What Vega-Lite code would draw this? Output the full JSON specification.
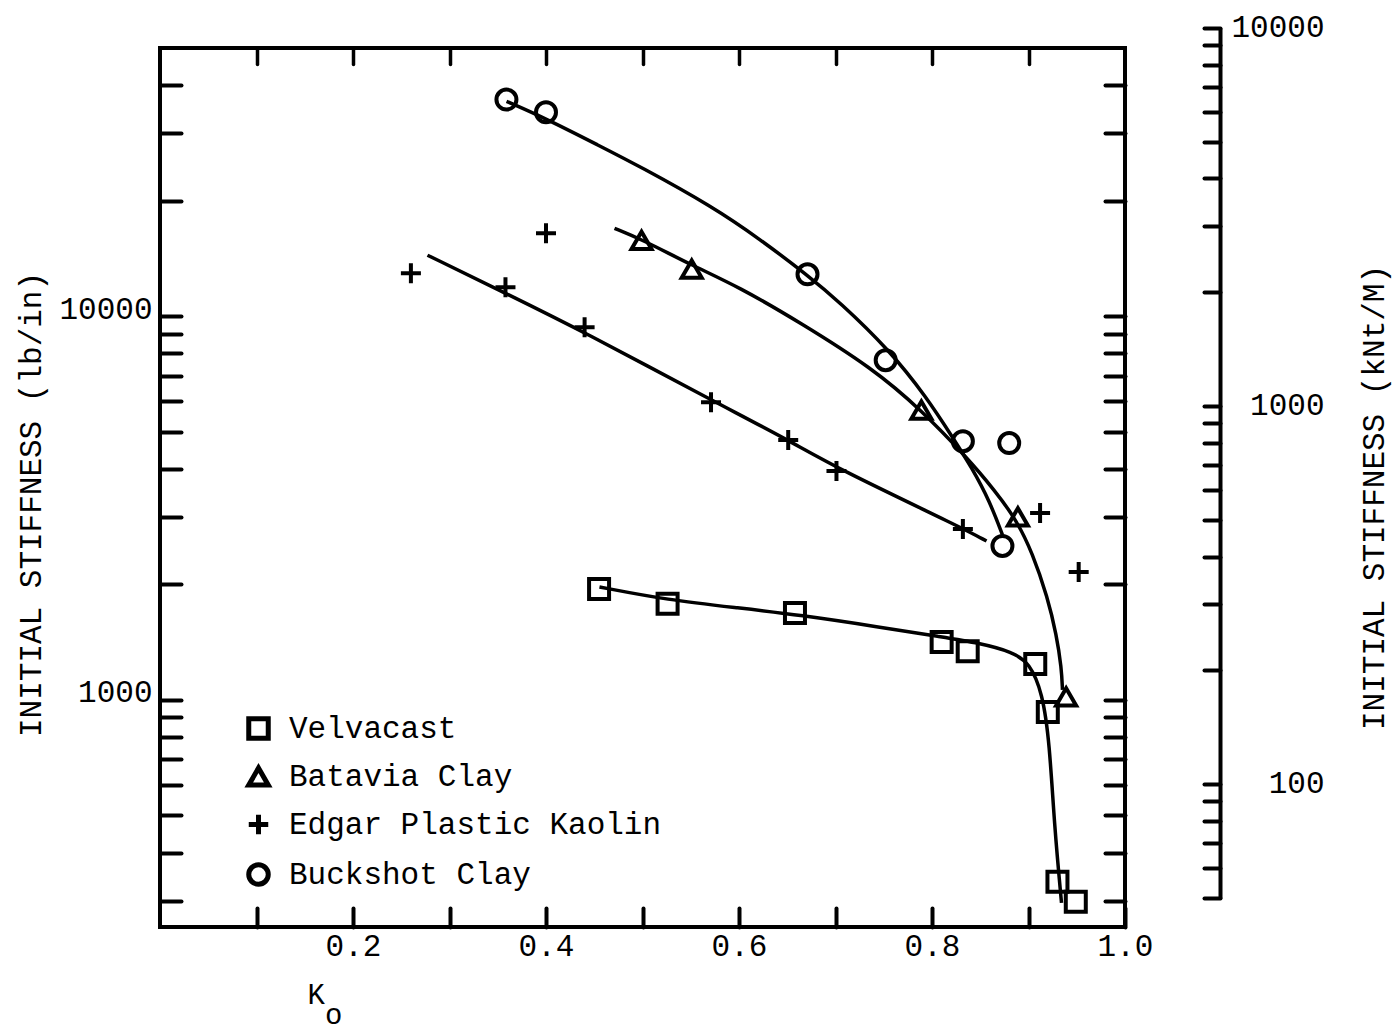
{
  "$schema": "https://vega.github.io/schema/vega-lite/v6.json",
  "autosize": "none",
  "width": 965,
  "height": 879,
  "padding": {"left": 160, "top": 48, "right": 270, "bottom": 105},
  "background": "white",
  "config": {
    "view": {"stroke": "black", "strokeWidth": 4},
    "font": "Liberation Mono",
    "axis": {
      "labelFont": "Liberation Mono",
      "titleFont": "Liberation Mono",
      "labelColor": "black",
      "titleColor": "black",
      "tickColor": "black",
      "domainColor": "black",
      "labelFontSize": 31,
      "titleFontSize": 31,
      "titleFontWeight": "normal",
      "grid": false,
      "tickWidth": 4,
      "tickCap": "round",
      "labelOverlap": false,
      "labelFlush": false,
      "labelBound": false
    }
  },
  "datasets": {
    "points": [
      {"series": "Velvacast", "ko": 0.455, "stiffness": 1945},
      {"series": "Velvacast", "ko": 0.526, "stiffness": 1780},
      {"series": "Velvacast", "ko": 0.658, "stiffness": 1685},
      {"series": "Velvacast", "ko": 0.810, "stiffness": 1415},
      {"series": "Velvacast", "ko": 0.837, "stiffness": 1340},
      {"series": "Velvacast", "ko": 0.907, "stiffness": 1240},
      {"series": "Velvacast", "ko": 0.920, "stiffness": 930},
      {"series": "Velvacast", "ko": 0.930, "stiffness": 336},
      {"series": "Velvacast", "ko": 0.949, "stiffness": 298},
      {"series": "Batavia Clay", "ko": 0.499, "stiffness": 15770},
      {"series": "Batavia Clay", "ko": 0.551, "stiffness": 13260},
      {"series": "Batavia Clay", "ko": 0.789, "stiffness": 5690},
      {"series": "Batavia Clay", "ko": 0.889, "stiffness": 3000},
      {"series": "Batavia Clay", "ko": 0.939, "stiffness": 1018},
      {"series": "Edgar Plastic Kaolin", "ko": 0.260, "stiffness": 12940},
      {"series": "Edgar Plastic Kaolin", "ko": 0.358, "stiffness": 11900},
      {"series": "Edgar Plastic Kaolin", "ko": 0.400, "stiffness": 16450},
      {"series": "Edgar Plastic Kaolin", "ko": 0.440, "stiffness": 9360},
      {"series": "Edgar Plastic Kaolin", "ko": 0.571, "stiffness": 5970},
      {"series": "Edgar Plastic Kaolin", "ko": 0.651, "stiffness": 4755},
      {"series": "Edgar Plastic Kaolin", "ko": 0.701, "stiffness": 3950},
      {"series": "Edgar Plastic Kaolin", "ko": 0.832, "stiffness": 2790},
      {"series": "Edgar Plastic Kaolin", "ko": 0.912, "stiffness": 3070},
      {"series": "Edgar Plastic Kaolin", "ko": 0.952, "stiffness": 2155},
      {"series": "Buckshot Clay", "ko": 0.359, "stiffness": 36700},
      {"series": "Buckshot Clay", "ko": 0.400, "stiffness": 34000},
      {"series": "Buckshot Clay", "ko": 0.671, "stiffness": 12860},
      {"series": "Buckshot Clay", "ko": 0.752, "stiffness": 7680},
      {"series": "Buckshot Clay", "ko": 0.832, "stiffness": 4725},
      {"series": "Buckshot Clay", "ko": 0.880, "stiffness": 4670},
      {"series": "Buckshot Clay", "ko": 0.873, "stiffness": 2520}
    ],
    "curves": [
      {"series": "Velvacast", "ko": 0.4554, "stiffness": 1970},
      {"series": "Velvacast", "ko": 0.5259, "stiffness": 1822},
      {"series": "Velvacast", "ko": 0.6005, "stiffness": 1736},
      {"series": "Velvacast", "ko": 0.6627, "stiffness": 1665},
      {"series": "Velvacast", "ko": 0.7456, "stiffness": 1549},
      {"series": "Velvacast", "ko": 0.8098, "stiffness": 1459},
      {"series": "Velvacast", "ko": 0.8492, "stiffness": 1407},
      {"series": "Velvacast", "ko": 0.8834, "stiffness": 1334},
      {"series": "Velvacast", "ko": 0.9010, "stiffness": 1249},
      {"series": "Velvacast", "ko": 0.9145, "stiffness": 1043},
      {"series": "Velvacast", "ko": 0.9218, "stiffness": 773},
      {"series": "Velvacast", "ko": 0.9269, "stiffness": 467},
      {"series": "Velvacast", "ko": 0.9342, "stiffness": 296},
      {"series": "Batavia Clay", "ko": 0.4710, "stiffness": 16950},
      {"series": "Batavia Clay", "ko": 0.4990, "stiffness": 15870},
      {"series": "Batavia Clay", "ko": 0.5508, "stiffness": 13580},
      {"series": "Batavia Clay", "ko": 0.6005, "stiffness": 11900},
      {"series": "Batavia Clay", "ko": 0.6627, "stiffness": 9647},
      {"series": "Batavia Clay", "ko": 0.7383, "stiffness": 7320},
      {"series": "Batavia Clay", "ko": 0.7891, "stiffness": 5690},
      {"series": "Batavia Clay", "ko": 0.8357, "stiffness": 4294},
      {"series": "Batavia Clay", "ko": 0.8648, "stiffness": 3524},
      {"series": "Batavia Clay", "ko": 0.8876, "stiffness": 2943},
      {"series": "Batavia Clay", "ko": 0.9041, "stiffness": 2414},
      {"series": "Batavia Clay", "ko": 0.9197, "stiffness": 1854},
      {"series": "Batavia Clay", "ko": 0.9290, "stiffness": 1477},
      {"series": "Batavia Clay", "ko": 0.9342, "stiffness": 1212},
      {"series": "Batavia Clay", "ko": 0.9352, "stiffness": 1062},
      {"series": "Edgar Plastic Kaolin", "ko": 0.2772, "stiffness": 14420},
      {"series": "Edgar Plastic Kaolin", "ko": 0.3580, "stiffness": 11480},
      {"series": "Edgar Plastic Kaolin", "ko": 0.4399, "stiffness": 9085},
      {"series": "Edgar Plastic Kaolin", "ko": 0.5715, "stiffness": 6042},
      {"series": "Edgar Plastic Kaolin", "ko": 0.6513, "stiffness": 4755},
      {"series": "Edgar Plastic Kaolin", "ko": 0.7010, "stiffness": 4020},
      {"series": "Edgar Plastic Kaolin", "ko": 0.8316, "stiffness": 2805},
      {"series": "Edgar Plastic Kaolin", "ko": 0.8565, "stiffness": 2595},
      {"series": "Buckshot Clay", "ko": 0.3591, "stiffness": 36300},
      {"series": "Buckshot Clay", "ko": 0.3995, "stiffness": 32780},
      {"series": "Buckshot Clay", "ko": 0.4554, "stiffness": 27800},
      {"series": "Buckshot Clay", "ko": 0.4969, "stiffness": 24600},
      {"series": "Buckshot Clay", "ko": 0.5725, "stiffness": 19300},
      {"series": "Buckshot Clay", "ko": 0.6213, "stiffness": 15900},
      {"series": "Buckshot Clay", "ko": 0.6710, "stiffness": 12790},
      {"series": "Buckshot Clay", "ko": 0.7041, "stiffness": 10900},
      {"series": "Buckshot Clay", "ko": 0.7560, "stiffness": 8155},
      {"series": "Buckshot Clay", "ko": 0.7943, "stiffness": 6152},
      {"series": "Buckshot Clay", "ko": 0.8212, "stiffness": 4841},
      {"series": "Buckshot Clay", "ko": 0.8420, "stiffness": 4000},
      {"series": "Buckshot Clay", "ko": 0.8596, "stiffness": 3300},
      {"series": "Buckshot Clay", "ko": 0.8731, "stiffness": 2690}
    ],
    "kn": [{"kn": 50}, {"kn": 10000}]
  },
  "layer": [
    {
      "data": {"name": "curves"},
      "mark": {"type": "line", "interpolate": "basis", "color": "black", "strokeWidth": 3.5},
      "encoding": {
        "x": {
          "field": "ko", "type": "quantitative",
          "scale": {"domain": [0, 1], "nice": false, "zero": false},
          "axis": {
            "orient": "bottom",
            "domain": false,
            "values": [0.1, 0.2, 0.3, 0.4, 0.5, 0.6, 0.7, 0.8, 0.9, 1],
            "labelExpr": "indexof([0.2, 0.4, 0.6, 0.8, 1], datum.value) >= 0 ? format(datum.value, '.1f') : ''",
            "tickSize": -19,
            "labelPadding": 23,
            "labelBaseline": "top",
            "title": ["K", "\u200b\u00a0o"],
            "titleFontSize": 29,
            "titleAlign": "left",
            "titleAnchor": "start",
            "titleBaseline": "top",
            "titleX": 147,
            "titleY": 53,
            "titleLineHeight": 20
          }
        },
        "y": {
          "field": "stiffness", "type": "quantitative",
          "scale": {"type": "log", "domain": [256, 50000], "nice": false},
          "axis": {
            "orient": "left",
            "domain": false,
            "values": [300, 400, 500, 600, 700, 800, 900, 1000, 2000, 3000, 4000, 5000, 6000, 7000, 8000, 9000, 10000, 20000, 30000, 40000],
            "labelExpr": "datum.value == 1000 || datum.value == 10000 ? format(datum.value, 'd') : ''",
            "tickSize": -21,
            "labelPadding": 29,
            "labelBaseline": "middle",
            "labelOffset": -7,
            "title": "INITIAL STIFFNESS (lb/in)",
            "titleAngle": -90,
            "titleAlign": "center",
            "titleBaseline": "middle",
            "titleX": -129,
            "titleY": 456
          }
        },
        "detail": {"field": "series", "type": "nominal"}
      }
    },
    {
      "data": {"name": "points"},
      "mark": {"type": "point", "filled": false, "color": "black", "strokeWidth": 4, "size": 400, "opacity": 1},
      "encoding": {
        "x": {
          "field": "ko", "type": "quantitative",
          "scale": {"domain": [0, 1], "nice": false, "zero": false},
          "axis": {
            "orient": "top",
            "domain": false,
            "labels": false,
            "title": null,
            "values": [0.1, 0.2, 0.3, 0.4, 0.5, 0.6, 0.7, 0.8, 0.9],
            "tickSize": -16,
            "tickWidth": 3.5
          }
        },
        "y": {
          "field": "stiffness", "type": "quantitative",
          "scale": {"type": "log", "domain": [256, 50000], "nice": false},
          "axis": {
            "orient": "right",
            "domain": false,
            "labels": false,
            "title": null,
            "values": [300, 400, 500, 600, 700, 800, 900, 1000, 2000, 3000, 4000, 5000, 6000, 7000, 8000, 9000, 10000, 20000, 30000, 40000],
            "tickSize": -20
          }
        },
        "shape": {
          "field": "series", "type": "nominal",
          "scale": {
            "domain": ["Velvacast", "Batavia Clay", "Edgar Plastic Kaolin", "Buckshot Clay"],
            "range": ["square", "triangle-up", "M-1,0H1M0,-1V1", "circle"]
          },
          "legend": {
            "orient": "none",
            "legendX": 83,
            "legendY": 665,
            "title": null,
            "padding": 0,
            "labelFont": "Liberation Mono",
            "labelFontSize": 31,
            "labelColor": "black",
            "labelLimit": 0,
            "labelOffset": 15,
            "symbolSize": 380,
            "symbolStrokeWidth": 5,
            "symbolStrokeColor": "black",
            "symbolFillColor": "transparent",
            "rowPadding": 9
          }
        }
      }
    },
    {
      "data": {"name": "kn"},
      "mark": {"type": "point", "opacity": 0},
      "encoding": {
        "y": {
          "field": "kn", "type": "quantitative",
          "scale": {"type": "log", "domain": [50, 10000], "range": [850, -20], "nice": false},
          "axis": {
            "orient": "right",
            "offset": 95,
            "domain": true,
            "domainWidth": 4,
            "values": [50, 60, 70, 80, 90, 100, 200, 300, 400, 500, 600, 700, 800, 900, 1000, 2000, 3000, 4000, 5000, 6000, 7000, 8000, 9000, 10000],
            "labelExpr": "datum.value == 100 || datum.value == 1000 || datum.value == 10000 ? format(datum.value, 'd') : ''",
            "tickSize": -16,
            "labelPadding": 120,
            "labelAlign": "right",
            "labelBaseline": "middle",
            "labelOffset": -1,
            "title": "INITIAL STIFFNESS (kNt/M)",
            "titleAngle": 270,
            "titleAlign": "center",
            "titleBaseline": "middle",
            "titleX": 154,
            "titleY": 449
          }
        }
      }
    }
  ],
  "resolve": {"scale": {"x": "independent", "y": "independent"}}
}
